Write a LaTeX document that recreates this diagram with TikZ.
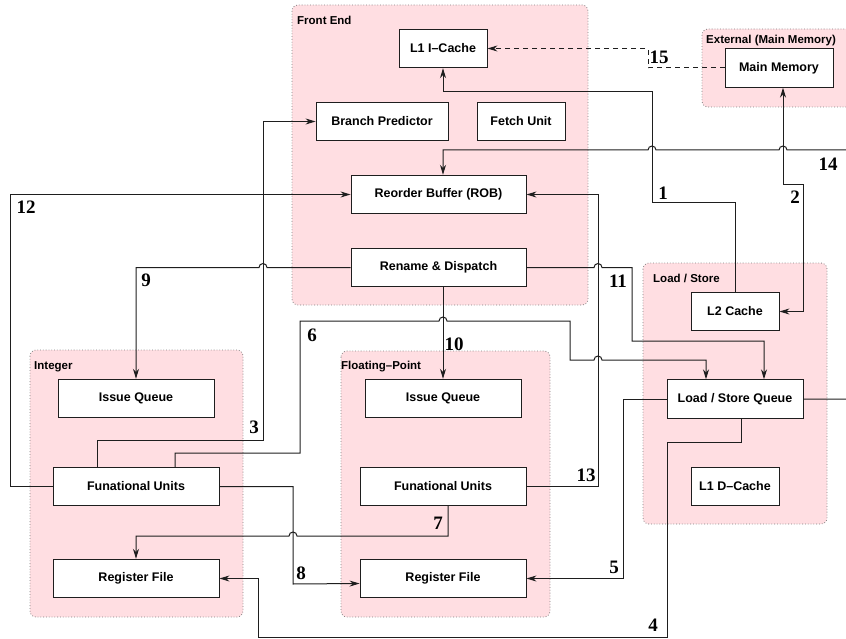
\documentclass[tikz,border=0pt]{standalone}
\usepackage{fontspec}
\setmainfont{Liberation Serif}
\setsansfont{Liberation Sans}
\usetikzlibrary{arrows.meta}
\definecolor{grppink}{RGB}{255,222,226}
\definecolor{linegray}{RGB}{30,30,30}

\begin{document}
\begin{tikzpicture}[x=1pt,y=-1pt,
  >={Stealth[length=10pt,width=6pt]},
  unit/.style={draw=linegray,fill=white,line width=0.9pt,inner sep=0pt,
    minimum height=38.5pt,font=\sffamily\bfseries\fontsize{12.5}{14}\selectfont},
  grp/.style={draw=gray,dotted,fill=grppink,rounded corners=6pt,line width=0.8pt},
  grplbl/.style={anchor=west,inner sep=0pt,font=\sffamily\bfseries\fontsize{11.5}{13}\selectfont},
  num/.style={inner sep=0pt,font=\bfseries\fontsize{19}{20}\selectfont},
  link/.style={draw=linegray,line width=1pt,->},
  dlink/.style={draw=linegray,line width=1pt,dash pattern=on 5pt off 4pt,->}]

\useasboundingbox (0,0) rectangle (846,639);

% groups
\draw[grp] (292,5) rectangle (588,305);
\draw[grp] (702,29) rectangle (856,107);
\draw[grp] (643,263) rectangle (827,524);
\draw[grp] (30,350) rectangle (243,617);
\draw[grp] (341,351) rectangle (550,617);

\node[grplbl] (gfront) at (297,20.5) {Front End};
\node[grplbl] (gext) at (706,40.5) {External (Main Memory)};
\node[grplbl] (gls) at (653,278) {Load / Store};
\node[grplbl] (gint) at (34,367) {Integer};
\node[grplbl] (gfp) at (341,367) {Floating–Point};

% units
\node[unit,minimum width=88pt] (l1i) at (443,48.5) {L1 I–Cache};
\node[unit,minimum width=108pt] (mem) at (779,68) {Main Memory};
\node[unit,minimum width=132pt] (bp) at (382,121.5) {Branch Predictor};
\node[unit,minimum width=88pt] (fetch) at (521,121.5) {Fetch Unit};
\node[unit,minimum width=175pt] (rob) at (438.5,194.5) {Reorder Buffer (ROB)};
\node[unit,minimum width=175pt] (ren) at (438.5,267.5) {Rename \& Dispatch};
\node[unit,minimum width=88pt] (l2) at (735,311.5) {L2 Cache};
\node[unit,minimum width=156pt] (iiq) at (136,398.5) {Issue Queue};
\node[unit,minimum width=156pt] (fiq) at (443,398.5) {Issue Queue};
\node[unit,minimum width=136pt] (lsq) at (735,399) {Load / Store Queue};
\node[unit,minimum width=166pt] (ifu) at (136,486.5) {Funational Units};
\node[unit,minimum width=166pt] (ffu) at (443,486.5) {Funational Units};
\node[unit,minimum width=88pt] (l1d) at (735,486.5) {L1 D–Cache};
\node[unit,minimum width=166pt] (irf) at (136,578.5) {Register File};
\node[unit,minimum width=166pt] (frf) at (443,578.5) {Register File};

% links
\draw[link] (l2.north) |- (652,203) -- (652,92) -| (l1i.south);
\draw[link,<->] (783,0 |- mem.south) -- (783,185) -- (803,185) |- (l2.east);
\draw[link] (97,0 |- ifu.north) -- (97,440) -- (263,440) |- (bp.west);
\draw[link] (741,0 |- lsq.south) -- (741,442) -- (667,442) -- (667,637) -- (258,637) |- (irf.east);
\draw[link] (lsq.west) -- (623,0 |- lsq.west) |- (frf.east);
\draw[link] (175,0 |- ifu.north) -- (175,453) -- (300,453) -- (300,321) -- (439,321)
  arc[start angle=180,end angle=0,radius=4pt] -- (570,321) -- (570,360) -- (594,360)
  arc[start angle=180,end angle=0,radius=4pt] -- (706,360) -- (706,0 |- lsq.north);
\draw[link] (448,0 |- ffu.south) -- (448,536) -- (297,536)
  arc[start angle=0,end angle=180,radius=4pt] -- (136,536) -- (irf.north);
\draw[link] (ifu.east) -| (293,584) -- ([yshift=-5pt]frf.west);
\draw[link] (ren.west) -- (267,267.5) arc[start angle=0,end angle=180,radius=4pt]
  -- (136,267.5) -- (iiq.north);
\draw[link] (ren.south -| fiq.north) -- (fiq.north);
\draw[link] (ren.east) -- (594,267.5) arc[start angle=180,end angle=0,radius=4pt]
  -- (632,267.5) -- (632,341) -| ([xshift=29pt]lsq.north);
\draw[link] (ifu.west) -- (10,0 |- ifu.west) |- (rob.west);
\draw[link] (ffu.east) -- (598,0 |- ffu.east) |- (rob.east);
\draw[link] (lsq.east) -- (849,0 |- lsq.east) -- (849,150) -- (787,150)
  arc[start angle=0,end angle=180,radius=4pt] -- (656,150)
  arc[start angle=0,end angle=180,radius=4pt] -- (443,150) -- (443,0 |- rob.north);
\draw[dlink] (mem.west) -| (648,0 |- l1i.east) -- (l1i.east);

% numbers
\node[num] (n1) at (663,193) {1};
\node[num] (n2) at (795,197) {2};
\node[num] (n3) at (254,427) {3};
\node[num] (n4) at (653,625) {4};
\node[num] (n5) at (614,567) {5};
\node[num] (n6) at (312,335) {6};
\node[num] (n7) at (438,523) {7};
\node[num] (n8) at (301,573) {8};
\node[num] (n9) at (146,280) {9};
\node[num] (n10) at (454,344) {10};
\node[num] (n11) at (618,281) {11};
\node[num] (n12) at (26,207) {12};
\node[num] (n13) at (586,475) {13};
\node[num] (n14) at (828,164) {14};
\node[num] (n15) at (659,57) {15};

\end{tikzpicture}
\end{document}
